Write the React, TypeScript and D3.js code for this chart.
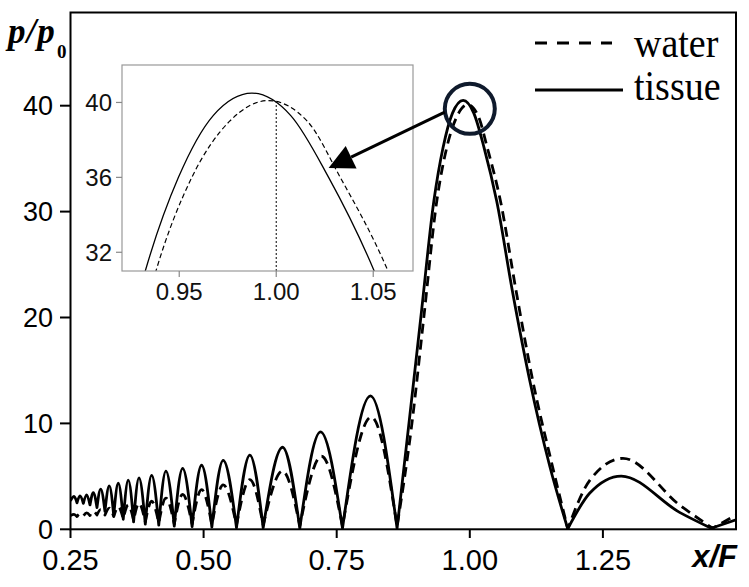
import React from "react";
import * as d3 from "d3";

// ---- data ----
const xTicks = [0.25, 0.5, 0.75, 1.0, 1.25];
const xTickLabels = ["0.25", "0.50", "0.75", "1.00", "1.25"];
const yTicks = [0, 10, 20, 30, 40];
const insetXTicks = [0.95, 1.0, 1.05];
const insetXTickLabels = ["0.95", "1.00", "1.05"];
const insetYTicks = [32, 36, 40];

// tissue (solid) : [x/F, p/p0]
const tissue: [number, number][] = [
  [0.25, 2.7], [0.2566, 3.1], [0.2622, 2.5], [0.2678, 3.15], [0.2741, 2.45],
  [0.2804, 3.25], [0.2866, 2.3], [0.2928, 3.45], [0.2997, 2.05], [0.3067, 3.8],
  [0.3147, 1.7], [0.3228, 4.1], [0.3312, 1.3], [0.3397, 4.35], [0.3491, 0.95],
  [0.3585, 4.65], [0.3685, 0.7], [0.3786, 4.85], [0.3905, 0.5], [0.4024, 5.1],
  [0.4158, 0.4], [0.4292, 5.5], [0.4449, 0.3], [0.4606, 5.75], [0.4784, 0.25],
  [0.4962, 6.05], [0.5155, 0.2], [0.5368, 6.5], [0.5618, 0.15], [0.5869, 7.0],
  [0.6119, 0.15], [0.6483, 7.75], [0.6807, 0.1], [0.7196, 9.2], [0.7609, 0.1],
  [0.8134, 12.6], [0.8634, 0.1],
  [0.8857, 10], [0.908, 20], [0.9325, 31], [0.9496, 36], [0.9675, 39.3],
  [0.9875, 40.5], [1.0075, 39.3], [1.027, 36], [1.0505, 31], [1.08, 22.5],
  [1.1124, 14.1], [1.15, 6.0], [1.184, 0.05],
  [1.225, 3.4], [1.2845, 5.03], [1.394, 1.6], [1.4535, 0.1], [1.5, 0.9],
];

// water (dashed)
const water: [number, number][] = [
  [0.25, 1.3], [0.2566, 1.4], [0.2622, 1.2], [0.2678, 1.45], [0.2741, 1.25],
  [0.2804, 1.55], [0.2866, 1.3], [0.2928, 1.7], [0.2997, 1.35], [0.3067, 1.85],
  [0.3147, 1.35], [0.3228, 2.0], [0.3312, 1.2], [0.3397, 2.15], [0.3491, 1.0],
  [0.3585, 2.3], [0.3685, 0.85], [0.3786, 2.45], [0.3905, 0.7], [0.4024, 2.65],
  [0.4158, 0.6], [0.4292, 2.95], [0.4449, 0.5], [0.4606, 3.3], [0.4784, 0.5],
  [0.4962, 3.75], [0.5155, 0.45], [0.5368, 4.2], [0.5618, 0.4], [0.5869, 4.7],
  [0.6119, 0.4], [0.6483, 5.5], [0.6807, 0.35], [0.7215, 6.9], [0.7609, 0.3],
  [0.815, 10.6], [0.8634, 0.3],
  [0.8913, 10], [0.9136, 20], [0.938, 31], [0.9565, 36], [0.976, 39.0],
  [0.996, 40.1], [1.016, 39.0], [1.033, 36], [1.0576, 31], [1.087, 22.5],
  [1.118, 14.1], [1.155, 6.0], [1.184, 0.05],
  [1.225, 4.6], [1.2877, 6.7], [1.394, 2.3], [1.456, 0.1], [1.5, 1.35],
];

const legendLabels = ["water", "tissue"];
const circleCenter: [number, number] = [1.0, 39.7]; // main coords
const arrowStart: [number, number] = [0.953, 39.4]; // main coords
const arrowTip: [number, number] = [1.027, 36.5]; // inset coords
const insetMarker: [number, number] = [1.0, 40.05];

// ---- layout ----
const W = 749, H = 587;
const x = d3.scaleLinear().domain([0.25, 1.5]).range([70.5, 736]);
const y = d3.scaleLinear().domain([0, 48.8]).range([529.3, 12.5]);
const ix = d3.scaleLinear().domain([0.9205, 1.0705]).range([122, 413]);
const iy = d3.scaleLinear().domain([31, 42]).range([271, 65]);

function lobePath(pts: [number, number][], sx: any, sy: any): string {
  // split at local minima so each lobe meets the next in a cusp
  const segs: [number, number][][] = [];
  let cur: [number, number][] = [pts[0]];
  for (let i = 1; i < pts.length; i++) {
    cur.push(pts[i]);
    if (i < pts.length - 1 && pts[i][1] < pts[i - 1][1] && pts[i][1] < pts[i + 1][1]) {
      segs.push(cur);
      cur = [pts[i]];
    }
  }
  segs.push(cur);
  const gen = d3.line<[number, number]>().x((d) => sx(d[0])).y((d) => sy(d[1])).curve(d3.curveMonotoneX);
  return segs.map((s, i) => {
    const p = gen(s) || "";
    return i === 0 ? p : p.replace(/^M/, "L");
  }).join("");
}

const SANS = "'Liberation Sans', Arial, sans-serif";
const SERIF = "'Liberation Serif', 'Times New Roman', serif";

export default function App() {
  const tissueD = lobePath(tissue, x, y);
  const waterD = lobePath(water, x, y);
  const tissueI = lobePath(tissue, ix, iy);
  const waterI = lobePath(water, ix, iy);

  const cx = x(circleCenter[0]), cy = y(circleCenter[1]);
  const ax0 = x(arrowStart[0]), ay0 = y(arrowStart[1]);
  const tx = ix(arrowTip[0]), ty = iy(arrowTip[1]);
  const dx = ax0 - tx, dy = ay0 - ty;
  const len = Math.hypot(dx, dy);
  const ux = dx / len, uy = dy / len;
  const headL = 25, headW = 12.5;
  const bx = tx + ux * headL, by = ty + uy * headL;
  const head = `M${tx},${ty}L${bx - uy * headW},${by + ux * headW}L${bx + uy * headW},${by - ux * headW}Z`;

  return (
    <svg width={W} height={H} style={{ position: "absolute", left: 0, top: 0, background: "#fff" }}>
      <defs>
        <clipPath id="insetClip">
          <rect x={122} y={65} width={291} height={206} />
        </clipPath>
        <clipPath id="mainClip">
          <rect x={70.5} y={12.5} width={665.5} height={516.8} />
        </clipPath>
      </defs>
      <rect x={0} y={0} width={W} height={H} fill="#fff" />

      {/* main curves */}
      <g clipPath="url(#mainClip)">
        <path d={waterD} fill="none" stroke="#000" strokeWidth={2.8} strokeDasharray="10,6" strokeLinejoin="round" />
        <path d={tissueD} fill="none" stroke="#000" strokeWidth={2.8} strokeLinejoin="round" />
      </g>

      {/* frame */}
      <rect x={70.5} y={12.5} width={665.5} height={516.8} fill="none" stroke="#000" strokeWidth={2} />

      {/* y axis ticks */}
      {yTicks.map((t) => (
        <g key={"y" + t}>
          <line x1={60} x2={70.5} y1={y(t)} y2={y(t)} stroke="#000" strokeWidth={2} />
          <text x={53} y={y(t)} dy="0.36em" textAnchor="end" fontFamily={SANS} fontSize={27}>{t}</text>
        </g>
      ))}
      {/* x axis ticks */}
      {xTicks.map((t, i) => (
        <g key={"x" + t}>
          <line x1={x(t)} x2={x(t)} y1={529.3} y2={538} stroke="#000" strokeWidth={2} />
          <text x={x(t)} y={570} textAnchor="middle" fontFamily={SANS} fontSize={29}>{xTickLabels[i]}</text>
        </g>
      ))}

      {/* axis titles */}
      <text x={8} y={43} fontFamily={SERIF} fontWeight="bold" fontStyle="italic" fontSize={35} letterSpacing={1}>p/p</text>
      <text x={57} y={58} fontFamily={SERIF} fontWeight="bold" fontSize={19}>0</text>
      <text x={737} y={567} textAnchor="end" fontFamily={SANS} fontWeight="bold" fontStyle="italic" fontSize={31}>x/F</text>

      {/* legend */}
      <line x1={535} x2={612} y1={43} y2={43} stroke="#000" strokeWidth={2.8} strokeDasharray="12,10" />
      <text transform="translate(634,57) scale(1,1.1)" fontFamily={SERIF} fontSize={38}>{legendLabels[0]}</text>
      <line x1={535} x2={623} y1={90} y2={90} stroke="#000" strokeWidth={2.8} />
      <text transform="translate(634,100) scale(1,1.1)" fontFamily={SERIF} fontSize={38}>{legendLabels[1]}</text>

      {/* inset */}
      <rect x={122} y={65} width={291} height={206} fill="#fff" stroke="none" />
      <g clipPath="url(#insetClip)">
        <line x1={ix(insetMarker[0])} x2={ix(insetMarker[0])} y1={271} y2={iy(insetMarker[1])} stroke="#000" strokeWidth={1} strokeDasharray="2,2" />
        <path d={waterI} fill="none" stroke="#000" strokeWidth={1.2} strokeDasharray="5,3" />
        <path d={tissueI} fill="none" stroke="#000" strokeWidth={1.3} />
      </g>
      <rect x={122} y={65} width={291} height={206} fill="none" stroke="#999" strokeWidth={1.2} />
      {insetYTicks.map((t) => (
        <g key={"iy" + t}>
          <line x1={116} x2={122} y1={iy(t)} y2={iy(t)} stroke="#888" strokeWidth={1.2} />
          <text x={112} y={iy(t)} dy="0.36em" textAnchor="end" fontFamily={SANS} fontSize={24} fill="#111">{t}</text>
        </g>
      ))}
      {insetXTicks.map((t, i) => (
        <g key={"ix" + t}>
          <line x1={ix(t)} x2={ix(t)} y1={271} y2={277} stroke="#888" strokeWidth={1.2} />
          <text x={ix(t)} y={300} textAnchor="middle" fontFamily={SANS} fontSize={24} fill="#111">{insetXTickLabels[i]}</text>
        </g>
      ))}

      {/* annotation */}
      <circle cx={cx} cy={cy} r={25} fill="none" stroke="#0f1a2c" strokeWidth={4} />
      <line x1={ax0} y1={ay0} x2={bx} y2={by} stroke="#000" strokeWidth={3} />
      <path d={head} fill="#000" />
    </svg>
  );
}
